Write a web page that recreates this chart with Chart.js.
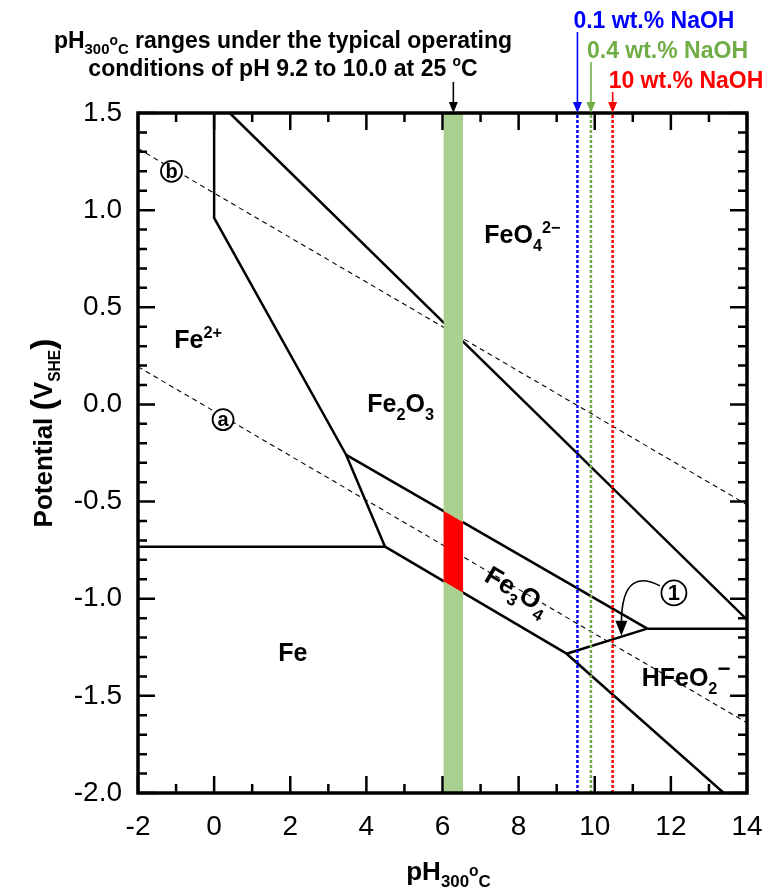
<!DOCTYPE html>
<html>
<head>
<meta charset="utf-8">
<script src="https://cdn.jsdelivr.net/npm/chart.js@4.4.1/dist/chart.umd.min.js"></script>
<style>
  body { margin: 0; background: #fff; }
  canvas { display: block; }
</style>
</head>
<body>
<canvas id="chart" width="763" height="891"></canvas>
<script>
const FONT = "'Liberation Sans', Arial, sans-serif";

// phase boundaries, [pH, E (V_SHE)]
const feIonOxide = [[0, 1.5], [0, 0.96], [3.47, -0.26], [4.49, -0.732]];
const feIon = [[-2, -0.732], [4.49, -0.732]];
const oxideMagnetite = [[3.47, -0.26], [11.38, -1.154]];
const feMagnetite = [[4.49, -0.732], [9.26, -1.283]];
const magnetiteHfeo2 = [[9.26, -1.283], [11.38, -1.154]];
const hfeo2Upper = [[11.38, -1.154], [14, -1.154]];
const feHfeo2 = [[9.26, -1.283], [13.39, -2.0]];
const oxideFerrate = [[0.41, 1.5], [14, -1.108]];

// water stability lines (a) and (b)
const waterA = [[-2, 0.194], [14, -1.639]];
const waterB = [[-2, 1.317], [14, -0.516]];

// pH300 range of the operating conditions
const bandPH = [6.03, 6.54];
const redZone = [[6.03, -0.549], [6.54, -0.607], [6.54, -0.969], [6.03, -0.910]];

// NaOH additions
const naohLabels = ['0.1 wt.% NaOH', '0.4 wt.% NaOH', '10 wt.% NaOH'];
const naohPH = [9.545, 9.9, 10.47];
const naohColors = ['#0000ff', '#70ad47', '#ff0000'];

const xTicks = [-2, 0, 2, 4, 6, 8, 10, 12, 14];
const yTicks = [-2.0, -1.5, -1.0, -0.5, 0.0, 0.5, 1.0, 1.5];

const pts = arr => arr.map(([x, y]) => ({ x, y }));

function solid(arr) {
    return { data: pts(arr), borderColor: '#000', borderWidth: 2.5, pointRadius: 0, fill: false, order: 3 };
}
function dashed(arr) {
    return { data: pts(arr), borderColor: '#000', borderWidth: 1.1, borderDash: [5, 4], pointRadius: 0, fill: false, order: 3 };
}

const datasets = [
    solid(feIonOxide), solid(feIon), solid(oxideMagnetite), solid(feMagnetite),
    solid(magnetiteHfeo2), solid(hfeo2Upper), solid(feHfeo2), solid(oxideFerrate),
    dashed(waterA), dashed(waterB),
    {
        data: pts([[bandPH[0], 1.5], [bandPH[1], 1.5], [bandPH[1], -2], [bandPH[0], -2]]),
        borderColor: 'transparent', borderWidth: 0, backgroundColor: '#a9d08e',
        fill: 'shape', pointRadius: 0, order: 2
    },
    {
        data: pts(redZone), borderColor: 'transparent', borderWidth: 0, backgroundColor: '#ff0000',
        fill: 'shape', pointRadius: 0, order: 1
    }
];
naohPH.forEach((p, i) => {
    datasets.push({
        data: pts([[p, -2], [p, 1.5]]), borderColor: naohColors[i], borderWidth: 2.5,
        borderDash: [3, 2], pointRadius: 0, fill: false, order: 0
    });
});

// draws text made of pieces [text, size factor, baseline shift factor]
function richText(ctx, parts, x, y, size, align) {
    ctx.textBaseline = 'alphabetic';
    ctx.textAlign = 'left';
    let w = 0;
    parts.forEach(([t, k]) => { ctx.font = `bold ${size * k}px ${FONT}`; w += ctx.measureText(t).width; });
    let cx = align === 'left' ? x : x - w / 2;
    parts.forEach(([t, k, dy]) => {
        ctx.font = `bold ${size * k}px ${FONT}`;
        ctx.fillText(t, cx, y + dy * size);
        cx += ctx.measureText(t).width;
    });
}

function arrowDown(ctx, x, y0, y1, color) {
    ctx.strokeStyle = color;
    ctx.fillStyle = color;
    ctx.lineWidth = 1.6;
    ctx.beginPath();
    ctx.moveTo(x, y0);
    ctx.lineTo(x, y1 - 9);
    ctx.stroke();
    ctx.beginPath();
    ctx.moveTo(x, y1);
    ctx.lineTo(x - 4.5, y1 - 11);
    ctx.lineTo(x + 4.5, y1 - 11);
    ctx.closePath();
    ctx.fill();
}

function circled(ctx, cx, cy, r, t, size) {
    ctx.beginPath();
    ctx.arc(cx, cy, r, 0, Math.PI * 2);
    ctx.fillStyle = '#fff';
    ctx.fill();
    ctx.lineWidth = 1.8;
    ctx.strokeStyle = '#000';
    ctx.stroke();
    ctx.fillStyle = '#000';
    ctx.font = `bold ${size}px ${FONT}`;
    ctx.textAlign = 'center';
    ctx.textBaseline = 'middle';
    ctx.fillText(t, cx, cy + 1);
}

const decor = {
    id: 'decor',
    afterDraw(chart) {
        const { ctx, chartArea: a, scales: { x, y } } = chart;
        ctx.save();

        // frame and inward ticks
        ctx.strokeStyle = '#000';
        ctx.lineWidth = 2.5;
        ctx.beginPath();
        for (let v = -2; v <= 14; v++) {
            const px = x.getPixelForValue(v);
            const len = v % 2 === 0 ? 17 : 9;
            ctx.moveTo(px, a.bottom); ctx.lineTo(px, a.bottom - len);
            ctx.moveTo(px, a.top); ctx.lineTo(px, a.top + len);
        }
        for (let i = 0; i <= 35; i++) {
            const py = y.getPixelForValue(-2 + i * 0.1);
            const len = i % 5 === 0 ? 17 : 9;
            ctx.moveTo(a.left, py); ctx.lineTo(a.left + len, py);
            ctx.moveTo(a.right, py); ctx.lineTo(a.right - len, py);
        }
        ctx.stroke();
        ctx.lineWidth = 3.5;
        ctx.strokeRect(a.left, a.top, a.right - a.left, a.bottom - a.top);

        // phase labels
        ctx.fillStyle = '#000';
        const S = 25;
        richText(ctx, [['Fe', 1, 0], ['2+', 0.65, -0.42]], x.getPixelForValue(-0.42), y.getPixelForValue(0.29), S);
        richText(ctx, [['FeO', 1, 0], ['4', 0.65, 0.3], ['2\u2212', 0.65, -0.42]], x.getPixelForValue(8.1), y.getPixelForValue(0.83), S);
        richText(ctx, [['Fe', 1, 0], ['2', 0.65, 0.3], ['O', 1, 0], ['3', 0.65, 0.3]], x.getPixelForValue(4.9), y.getPixelForValue(-0.04), S);
        richText(ctx, [['Fe', 1, 0]], x.getPixelForValue(2.07), y.getPixelForValue(-1.32), S);
        richText(ctx, [['HFeO', 1, 0], ['2', 0.65, 0.3], ['\u2212', 0.9, -0.4]], x.getPixelForValue(12.4), y.getPixelForValue(-1.45), S);
        ctx.save();
        ctx.translate(x.getPixelForValue(7.97), y.getPixelForValue(-0.955));
        ctx.rotate(Math.atan2(0.113 * (y.getPixelForValue(0) - y.getPixelForValue(1)), x.getPixelForValue(1) - x.getPixelForValue(0)));
        richText(ctx, [['Fe', 1, 0], ['3', 0.65, 0.3], ['O', 1, 0], ['4', 0.65, 0.3]], 0, 9, 26);
        ctx.restore();

        // circled marks
        circled(ctx, x.getPixelForValue(-1.12), y.getPixelForValue(1.2), 10.5, 'b', 20);
        circled(ctx, x.getPixelForValue(0.235), y.getPixelForValue(-0.078), 10.5, 'a', 20);
        const c1x = x.getPixelForValue(12.08), c1y = y.getPixelForValue(-0.97);
        circled(ctx, c1x, c1y, 12.5, '1', 22);

        // curved arrow from (1)
        const tx = x.getPixelForValue(10.70), ty = y.getPixelForValue(-1.19);
        ctx.strokeStyle = '#000';
        ctx.lineWidth = 1.6;
        ctx.beginPath();
        ctx.moveTo(c1x - 14, c1y - 7);
        ctx.bezierCurveTo(tx + 19, ty - 60, tx, ty - 58, tx, ty - 12);
        ctx.stroke();
        ctx.fillStyle = '#000';
        ctx.beginPath();
        ctx.moveTo(tx, ty);
        ctx.lineTo(tx - 6, ty - 15);
        ctx.lineTo(tx + 6, ty - 15);
        ctx.closePath();
        ctx.fill();

        // top annotations
        const T = 23;
        ctx.fillStyle = '#000';
        richText(ctx, [['pH', 1, 0], ['300', 0.65, 0.28], ['o', 0.6, -0.12], ['C', 0.65, 0.28], [' ranges under the typical operating', 1, 0]], 283, 48, T);
        richText(ctx, [['conditions of pH 9.2 to 10.0 at 25 ', 1, 0], ['o', 0.6, -0.42], ['C', 1, 0]], 283, 76, T);
        arrowDown(ctx, x.getPixelForValue((bandPH[0] + bandPH[1]) / 2), 82, a.top, '#000');

        const textTop = [28, 58, 88];
        naohPH.forEach((p, i) => {
            const px = x.getPixelForValue(p);
            ctx.fillStyle = naohColors[i];
            richText(ctx, [[naohLabels[i], 1, 0]], px - 4, textTop[i], T, 'left');
            arrowDown(ctx, px, textTop[i] + 4, a.top, naohColors[i]);
        });

        // axis titles
        ctx.fillStyle = '#000';
        richText(ctx, [['pH', 1, 0], ['300', 0.65, 0.27], ['o', 0.6, -0.15], ['C', 0.65, 0.27]], (a.left + a.right) / 2 + 6, 880, 26);
        ctx.save();
        ctx.translate(52, (a.top + a.bottom) / 2 - 20);
        ctx.rotate(-Math.PI / 2);
        richText(ctx, [['Potential ', 1, 0], ['(', 1.3, 0.06], ['V', 1, 0], ['SHE', 0.6, 0.3], [')', 1.3, 0.06]], 0, 0, 26);
        ctx.restore();

        ctx.restore();
    }
};

new Chart(document.getElementById('chart'), {
    type: 'line',
    data: { datasets },
    options: {
        responsive: false,
        animation: false,
        devicePixelRatio: 1,
        events: [],
        layout: { padding: { left: 0, right: 16, top: 113, bottom: 0 } },
        plugins: { legend: { display: false }, tooltip: { enabled: false } },
        elements: { line: { tension: 0 } },
        scales: {
            x: {
                type: 'linear', min: -2, max: 14,
                afterBuildTicks: s => { s.ticks = xTicks.map(v => ({ value: v })); },
                ticks: { callback: v => String(v), font: { family: FONT, size: 28 }, color: '#000', padding: 17, maxRotation: 0 },
                grid: { display: false, drawTicks: false },
                border: { display: false },
                afterFit: s => { s.height = 98; s.paddingLeft = 0; s.paddingRight = 0; }
            },
            y: {
                type: 'linear', min: -2, max: 1.5,
                afterBuildTicks: s => { s.ticks = yTicks.map(v => ({ value: v })); },
                ticks: { callback: v => v.toFixed(1), font: { family: FONT, size: 28 }, color: '#000', padding: 16 },
                grid: { display: false, drawTicks: false },
                border: { display: false },
                afterFit: s => { s.width = 138; s.paddingTop = 0; s.paddingBottom = 0; }
            }
        }
    },
    plugins: [decor]
});
</script>
</body>
</html>
